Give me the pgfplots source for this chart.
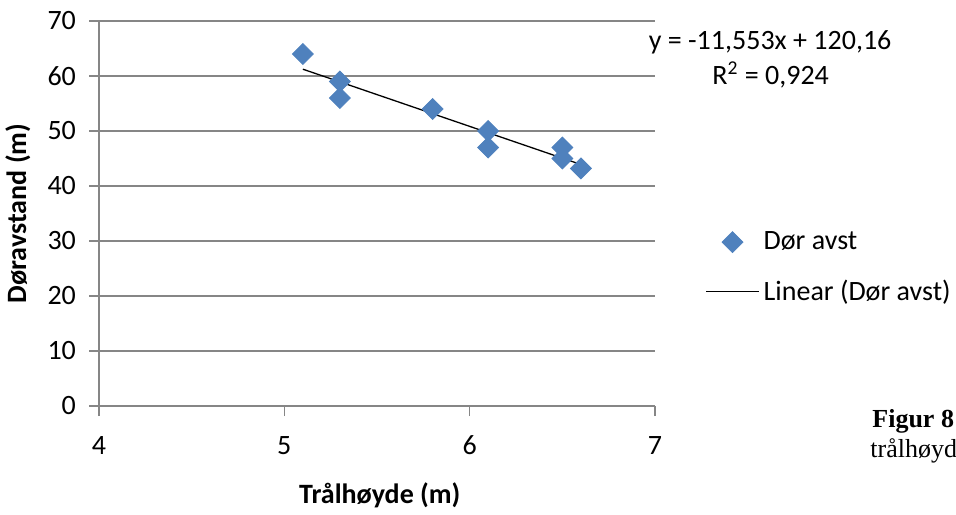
\documentclass[border=0pt]{standalone}
\usepackage{pgfplots}
\pgfplotsset{compat=1.18}
\usepackage{fontspec}
\setmainfont{Carlito}
\newfontfamily\timesfont{Liberation Serif}
\definecolor{excelblue}{HTML}{4F81BD}
\definecolor{gridgray}{HTML}{868686}
\pgfplotsset{
  markleg/.style={legend image code/.code={\draw[mark repeat=2,mark phase=2,##1] plot coordinates {(0pt,0pt) (13.25pt,0pt) (26.5pt,0pt)};}},
  lineleg/.style={legend image code/.code={\draw[##1] (0pt,0pt) -- (26.5pt,0pt);}},
}
\begin{document}
\begin{tikzpicture}[x=1pt,y=1pt]
\useasboundingbox (0,0) rectangle (478,257);
\begin{axis}[
  at={(49.5pt,54pt)}, anchor=south west,
  scale only axis, width=278pt, height=192.5pt,
  xmin=4, xmax=7, ymin=0, ymax=70,
  xtick={4,5,6,7}, ytick={0,10,...,70},
  axis x line*=bottom, axis y line*=left,
  axis line style={gridgray, line width=0.6pt, -},
  tick style={gridgray, line width=0.6pt},
  major tick length=5pt, tick align=outside,
  ymajorgrids, grid style={gridgray, line width=0.6pt},
  ticklabel style={font=\fontsize{14}{16}\selectfont},
  xticklabel style={yshift=-6.5pt},
  yticklabel style={xshift=-3pt},
  /pgf/number format/assume math mode=true,
  xlabel={Trålhøyde (m)}, ylabel={Døravstand (m)},
  label style={font=\bfseries\fontsize{14}{16}\selectfont},
  ylabel style={at={(axis description cs:-0.146,0.5)}, anchor=center},
  xlabel style={at={(axis description cs:0.505,-0.231)}, anchor=center},
  clip=false,
  legend cell align=left,
  legend style={draw=none, fill=none, at={(axis description cs:1.0899,0.36)}, anchor=west,
    font=\fontsize{14}{16}\selectfont, row sep=9.5pt, inner sep=0pt,
    nodes={inner sep=2pt}},
]
\addplot[only marks, mark=square*, mark size=3.7pt, mark options={rotate=45}, color=excelblue, markleg]
  coordinates {(5.1,64) (5.3,59) (5.3,56) (5.8,54) (6.1,50) (6.1,47) (6.5,47) (6.5,45) (6.6,43.2)};
\addlegendentry{Dør avst}
\addplot[black, line width=0.65pt, no marks, lineleg]
  coordinates {(5.1,61.24) (6.6,43.91)};
\addlegendentry{Linear (Dør avst)}
\node[font=\fontsize{14}{16}\selectfont, anchor=center] at (rel axis cs:1.207,0.9455) {y = -11,553x + 120,16};
\node[font=\fontsize{14}{16}\selectfont, anchor=center] at (rel axis cs:1.208,0.8597) {R\textsuperscript{2} = 0,924};
\end{axis}
\node[anchor=base west, font=\timesfont\bfseries\fontsize{13}{15}\selectfont, inner sep=0pt] at (436,43.5) {Figur 8};
\node[anchor=base west, font=\timesfont\fontsize{13}{15}\selectfont, inner sep=0pt] at (435,28.5) {trålhøyd};
\end{tikzpicture}
\end{document}
